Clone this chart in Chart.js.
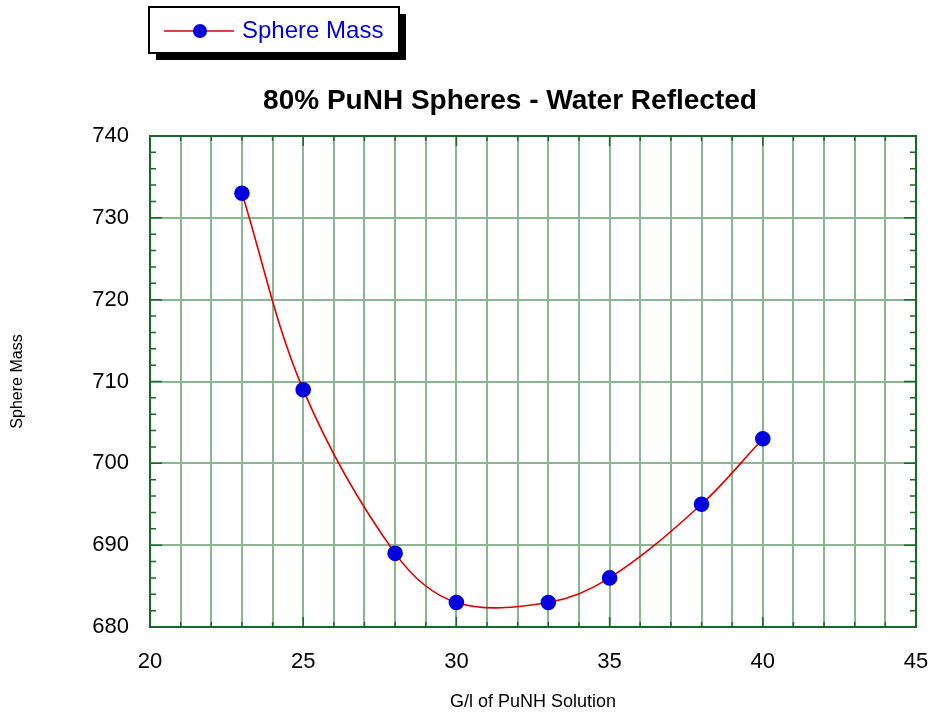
<!DOCTYPE html>
<html>
<head>
<meta charset="utf-8">
<script src="https://cdn.jsdelivr.net/npm/chart.js@4/dist/chart.umd.min.js"></script>
<style>
  html, body { margin: 0; padding: 0; background: #fff; }
  #wrap { width: 933px; height: 713px; position: relative; }
</style>
</head>
<body>
<div id="wrap"><canvas id="grafica"></canvas></div>
<script>
// data
const concentraciones = [23, 25, 28, 30, 33, 35, 38, 40];
const masas = [733, 709, 689, 683, 683, 686, 695, 703];
const serieNombre = 'Sphere Mass';
const titulo = '80% PuNH Spheres - Water Reflected';
const xTicks = [20, 25, 30, 35, 40, 45];
const yTicks = [680, 690, 700, 710, 720, 730, 740];

const fuente = '"Liberation Sans", Arial, sans-serif';
const verdeEje = '#17692a';
const verdeRejilla = '#8cb592';

// frame, minor ticks, title and the boxed legend
const marcoPlugin = {
  id: 'marco',
  afterDraw(chart) {
    const ctx = chart.ctx;
    const a = chart.chartArea;
    const sx = chart.scales.x, sy = chart.scales.y;
    ctx.save();
    ctx.strokeStyle = verdeEje;
    ctx.lineWidth = 2;
    ctx.strokeRect(a.left, a.top, a.right - a.left, a.bottom - a.top);
    ctx.lineWidth = 1.5;
    ctx.beginPath();
    for (let v = 20; v <= 45; v++) {
      const px = sx.getPixelForValue(v);
      const len = v % 5 === 0 ? 10 : 5;
      ctx.moveTo(px, a.bottom); ctx.lineTo(px, a.bottom - len);
      ctx.moveTo(px, a.top); ctx.lineTo(px, a.top + len);
    }
    for (let v = 680; v <= 740; v += 2) {
      const py = sy.getPixelForValue(v);
      const len = v % 10 === 0 ? 12 : 6;
      ctx.moveTo(a.left, py); ctx.lineTo(a.left + len, py);
      ctx.moveTo(a.right, py); ctx.lineTo(a.right - len, py);
    }
    ctx.stroke();

    // title
    ctx.fillStyle = '#000';
    ctx.font = 'bold 28px ' + fuente;
    ctx.textAlign = 'center';
    ctx.textBaseline = 'middle';
    ctx.fillText(titulo, 510, 101);

    // legend box
    const ds = chart.data.datasets[0];
    const bx = 149, by = 7, bw = 250, bh = 46;
    ctx.fillStyle = '#000';
    ctx.fillRect(bx + 7, by + 7, bw, bh);
    ctx.fillStyle = '#fff';
    ctx.fillRect(bx, by, bw, bh);
    ctx.strokeStyle = '#000';
    ctx.lineWidth = 2;
    ctx.strokeRect(bx, by, bw, bh);
    const ly = by + 24;
    ctx.strokeStyle = ds.borderColor;
    ctx.lineWidth = 1.6;
    ctx.beginPath();
    ctx.moveTo(164, ly); ctx.lineTo(234, ly);
    ctx.stroke();
    ctx.fillStyle = ds.pointBackgroundColor;
    ctx.beginPath();
    ctx.arc(200, ly, 7, 0, Math.PI * 2);
    ctx.fill();
    ctx.fillStyle = '#0000dd';
    ctx.font = '24px ' + fuente;
    ctx.textAlign = 'left';
    ctx.fillText(ds.label, 242, ly);
    ctx.restore();
  }
};

const ctx = document.getElementById('grafica').getContext('2d');
new Chart(ctx, {
  type: 'line',
  data: {
    datasets: [{
      label: serieNombre,
      data: concentraciones.map((x, i) => ({ x: x, y: masas[i] })),
      borderColor: '#e00000',
      borderWidth: 1.6,
      pointBackgroundColor: '#0000dd',
      pointBorderColor: '#0000dd',
      pointRadius: 7,
      tension: 0.35
    }]
  },
  options: {
    responsive: true,
    maintainAspectRatio: false,
    animation: false,
    layout: { padding: { left: 0, right: 17, top: 136, bottom: 0 } },
    plugins: {
      legend: { display: false },
      tooltip: { enabled: false },
      title: { display: false }
    },
    scales: {
      x: {
        type: 'linear',
        min: 20, max: 45,
        afterBuildTicks: s => { s.ticks = []; for (let v = 20; v <= 45; v++) s.ticks.push({ value: v }); },
        afterFit: s => { s.height = 86; s.paddingLeft = 0; s.paddingRight = 0; },
        grid: { color: verdeRejilla, lineWidth: 2, drawTicks: false },
        border: { display: false },
        ticks: {
          autoSkip: false,
          maxRotation: 0,
          padding: 22,
          color: '#000',
          font: { family: fuente, size: 22 },
          callback: v => (xTicks.includes(v) ? v : '')
        },
        title: {
          display: true,
          text: 'G/l of PuNH Solution',
          color: '#000',
          font: { family: fuente, size: 18 },
          padding: { top: 8, bottom: 0 }
        }
      },
      y: {
        min: 680, max: 740,
        afterBuildTicks: s => { s.ticks = yTicks.map(v => ({ value: v })); },
        afterFit: s => { s.width = 150; s.paddingTop = 0; s.paddingBottom = 0; },
        grid: { color: verdeRejilla, lineWidth: 2, drawTicks: false },
        border: { display: false },
        ticks: {
          padding: 21,
          color: '#000',
          font: { family: fuente, size: 22 }
        },
        title: {
          display: true,
          text: 'Sphere Mass',
          color: '#000',
          font: { family: fuente, size: 16 },
          padding: { top: 8, bottom: 0 }
        }
      }
    }
  },
  plugins: [marcoPlugin]
});
</script>
</body>
</html>
